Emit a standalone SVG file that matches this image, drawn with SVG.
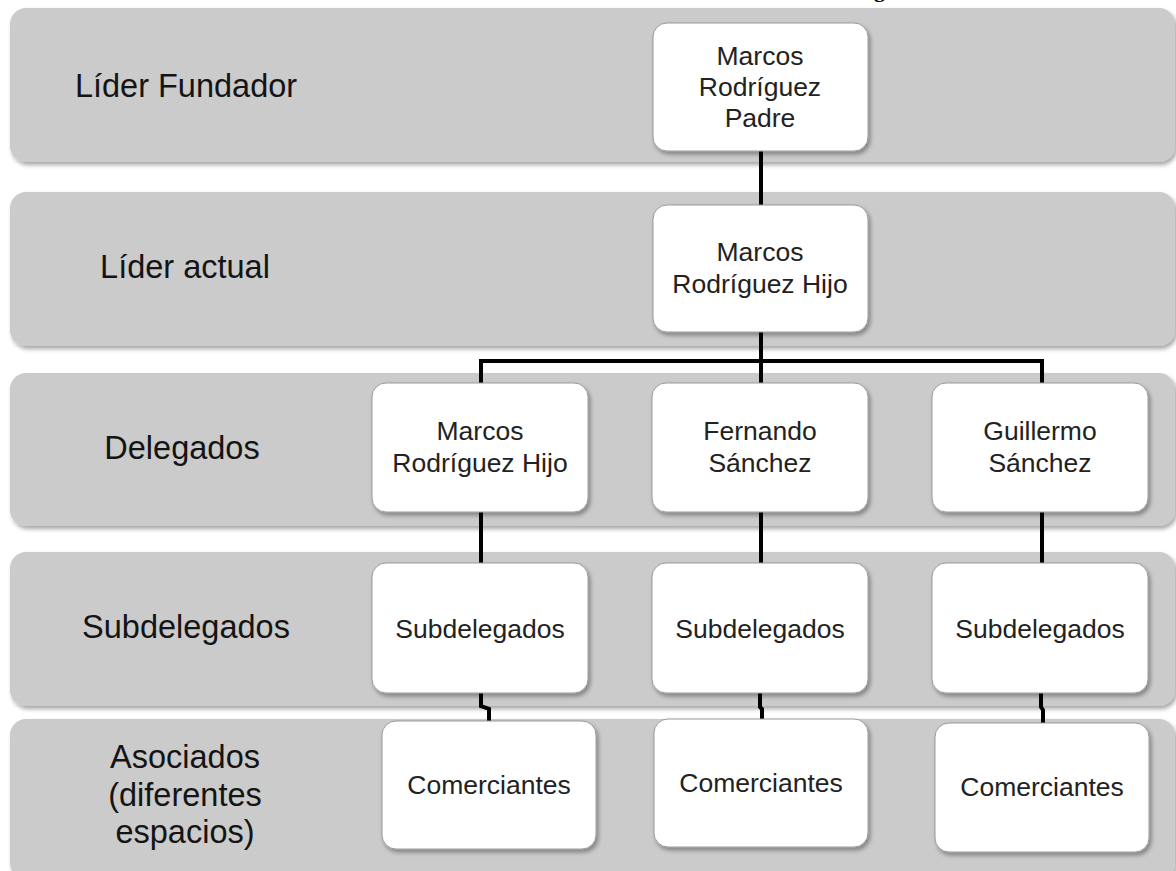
<svg xmlns="http://www.w3.org/2000/svg" width="1176" height="871" viewBox="0 0 1176 871">
  <defs>
    <filter id="shadow" x="-5%" y="-10%" width="115%" height="130%">
      <feDropShadow dx="2" dy="3" stdDeviation="2" flood-color="#000" flood-opacity="0.35"/>
    </filter>
    <style>
      .band { fill: #cbcbcb; filter: url(#shadow); }
      .box { fill: #ffffff; stroke: #9a9a9a; stroke-width: 1; filter: url(#shadow); }
      .lvl { font-family: "Liberation Sans", Arial, sans-serif; font-size: 32.5px; fill: #141414; text-anchor: middle; }
      .txt { font-family: "Liberation Sans", Arial, sans-serif; font-size: 26.5px; fill: #222; text-anchor: middle; }
      .wire { fill: none; stroke: #000; stroke-width: 4; stroke-linejoin: miter; }
      .title { font-family: "Liberation Serif", serif; font-weight: bold; font-size: 22px; fill: #000; }
    </style>
  </defs>

  <rect width="1176" height="871" fill="#ffffff"/>

  <!-- title running off the top edge -->
  <text class="title" x="874" y="-3">g</text>

  <!-- level bands -->
  <g id="levels">
    <g id="level-fundador">
      <rect class="band" x="10" y="8" width="1165" height="154" rx="16"/>
      <text class="lvl" x="186" y="97">Líder Fundador</text>
    </g>
    <g id="level-actual">
      <rect class="band" x="10" y="192" width="1165" height="154" rx="16"/>
      <text class="lvl" x="185" y="278">Líder actual</text>
    </g>
    <g id="level-delegados">
      <rect class="band" x="10" y="373" width="1165" height="153" rx="16"/>
      <text class="lvl" x="182" y="459">Delegados</text>
    </g>
    <g id="level-subdelegados">
      <rect class="band" x="10" y="552" width="1165" height="154" rx="16"/>
      <text class="lvl" x="186" y="638">Subdelegados</text>
    </g>
    <g id="level-asociados">
      <rect class="band" x="10" y="719" width="1165" height="160" rx="16"/>
      <text class="lvl" x="185" y="768">Asociados</text>
      <text class="lvl" x="185" y="805.5">(diferentes</text>
      <text class="lvl" x="185" y="843">espacios)</text>
    </g>
  </g>

  <!-- connectors -->
  <g id="connectors">
    <path class="wire" d="M761,151 V205"/>
    <path class="wire" d="M761,332 V383"/>
    <path class="wire" d="M481,383 V361 H1042 V383"/>
    <path class="wire" d="M481,512 V563"/>
    <path class="wire" d="M761,512 V563"/>
    <path class="wire" d="M1042,512 V563"/>
    <path class="wire" d="M481,693 V706 L489,709 V721"/>
    <path class="wire" d="M760,693 V707 L762,709 V719"/>
    <path class="wire" d="M1041,693 V707 L1043,710 V723"/>
  </g>

  <!-- nodes -->
  <g id="node-padre">
    <rect class="box" x="653" y="23" width="215" height="128" rx="14"/>
    <text class="txt" x="760" y="65">Marcos</text>
    <text class="txt" x="760" y="96">Rodríguez</text>
    <text class="txt" x="760" y="127">Padre</text>
  </g>
  <g id="node-hijo">
    <rect class="box" x="653" y="205" width="215" height="127" rx="14"/>
    <text class="txt" x="760" y="261">Marcos</text>
    <text class="txt" x="760" y="293">Rodríguez Hijo</text>
  </g>

  <g id="node-delegado-1">
    <rect class="box" x="372" y="383" width="216" height="129" rx="14"/>
    <text class="txt" x="480" y="440">Marcos</text>
    <text class="txt" x="480" y="472">Rodríguez Hijo</text>
  </g>
  <g id="node-delegado-2">
    <rect class="box" x="652" y="383" width="216" height="129" rx="14"/>
    <text class="txt" x="760" y="440">Fernando</text>
    <text class="txt" x="760" y="472">Sánchez</text>
  </g>
  <g id="node-delegado-3">
    <rect class="box" x="932" y="383" width="216" height="129" rx="14"/>
    <text class="txt" x="1040" y="440">Guillermo</text>
    <text class="txt" x="1040" y="472">Sánchez</text>
  </g>

  <g id="node-sub-1">
    <rect class="box" x="372" y="563" width="216" height="130" rx="14"/>
    <text class="txt" x="480" y="638">Subdelegados</text>
  </g>
  <g id="node-sub-2">
    <rect class="box" x="652" y="563" width="216" height="130" rx="14"/>
    <text class="txt" x="760" y="638">Subdelegados</text>
  </g>
  <g id="node-sub-3">
    <rect class="box" x="932" y="563" width="216" height="130" rx="14"/>
    <text class="txt" x="1040" y="638">Subdelegados</text>
  </g>

  <g id="node-com-1">
    <rect class="box" x="382" y="721" width="214" height="128" rx="14"/>
    <text class="txt" x="489" y="794">Comerciantes</text>
  </g>
  <g id="node-com-2">
    <rect class="box" x="654" y="719" width="214" height="128" rx="14"/>
    <text class="txt" x="761" y="792">Comerciantes</text>
  </g>
  <g id="node-com-3">
    <rect class="box" x="935" y="723" width="214" height="129" rx="14"/>
    <text class="txt" x="1042" y="796">Comerciantes</text>
  </g>
</svg>
